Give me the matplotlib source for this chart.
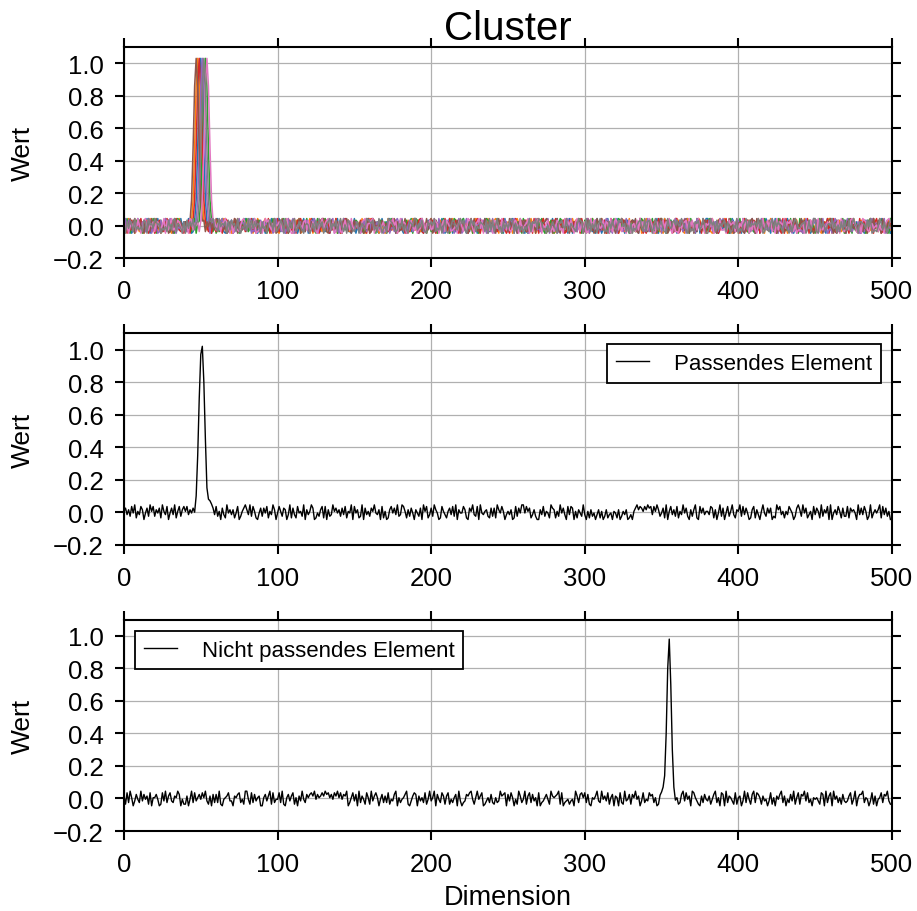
import numpy as np
import matplotlib
matplotlib.use("Agg")
import matplotlib.pyplot as plt

# Rauschwerte als Ziffernfolgen: Ziffer d -> (d - 4.5) / 100, also -0.045 .. 0.045
cluster_noise = [
    ["4718302659 2847193056 6193027485 3805162947 7294013586 1583926047 4926810375 8037215649 2561948037 6402839157",
     "3917504826 8250361947 0649273518 5182047369 2736985104 9041526837 4683710295 1759248063 6208537149 3571904286",
     "8143625970 2695041378 5930718264 0476293815 7812456093 4359082716 1067935428 6824107359 3195842670 9502617384",
     "2764815093 6038492157 4917260385 1385709246 8243156907 5690238417 0728145963 3471806259 9156372048 2845019736",
     "7309548162 1628073495 4052916837 8794260315 3186457029 6531872094 2947031568 0853694721 5208147396 4679321580"],
    ["5829163074 1470385926 9315062748 2083759416 6541820397 3907264185 7168493052 0452917683 8236051974 4791380625",
     "1046827953 7583901246 2960475831 8417236590 5209648173 3675192084 9832570461 0198324657 6754081392 2381956047",
     "9265038147 4702916385 1538427069 6014753928 3897061254 7240389615 5483196702 8659204731 0127658394 6395817240",
     "3180496275 8926037514 5402781639 2751349086 9638520471 1094673258 4827105963 7563982410 2310547896 8946210357",
     "0573924816 6218459073 3961708245 7405136982 1849273560 5682041739 9076358124 2314896507 8450712693 4197635082"],
    ["2691057384 8305274619 5047812936 1760398452 7428159063 3952640718 0817936245 6284501397 9136742580 4570283916",
     "6382915047 0718436259 4253709168 8946123570 1609285734 5873460192 3195072846 7024958613 2461837905 9837612054",
     "1758043692 6403198275 8921567034 3045729861 7569830142 2186457390 9310264578 4792031586 0634985217 5217649803",
     "8043296157 3572810469 6198457320 0821364975 4736902518 9350178246 1487523609 5609841732 2964310785 7315096428",
     "4926781053 1083652947 7851409326 3264917850 9507238164 0749516382 6312845790 8495072613 2630189475 5178342609"],
    ["7405283916 3916870524 0258341697 8673952140 4180726395 9527418063 1364059872 6092783451 2849167530 5731904286",
     "9153640782 2708395164 6491527038 1836072495 5072948613 7345816209 0928354176 4617293805 8260471539 3589106247",
     "6820374159 5193768402 1745029386 9308152674 4561387920 2036894571 7814260935 0479513628 3952748016 8217635094",
     "1597426830 6248013957 3705982146 7863159402 0431678295 5682347019 9016825734 2354970681 8149536027 4790261358",
     "3062918475 8719054362 5436781209 0928463751 6175390842 2843617590 7591024683 4307856129 1684239507 9250174836"],
    ["0938471265 6274159803 3501826974 9862043517 2149675380 7385210946 4627938051 8013594762 5490217638 1756843029",
     "4621803957 9035476218 1487920365 6352189074 0819635742 3764028519 8196573420 2570341896 7943058612 5208916473",
     "3417295608 7852603194 0269148735 5693870241 9025436187 1378920564 6840157392 4136789025 8701342659 2954618370",
     "6190752843 1365984207 8074215936 3428609571 5917342068 0641857329 2583190746 7309624815 4862075193 9726438051",
     "8572036419 4018697325 2396450781 6751208934 1204963758 7835491602 3069712584 5948136270 0413857926 6287590143"],
    ["3164928057 8520637194 6937215480 1409856723 7246301958 0581749362 9863425017 4198067235 2675390841 5312874690",
     "1859374026 6243908715 3076142589 9510683247 4728591603 8364720159 0197236485 5632849071 2849015376 7405163928",
     "9028615743 4719352860 7543086192 2185497036 6307912854 1954360728 5871243609 3426798150 8692051374 0315687942",
     "5283740196 2960471583 0615938427 7849106235 3172658049 9438025716 1726389504 6051742938 4397210865 8564937012",
     "6741053289 3092816574 8456702931 1267349805 5938167420 2614905378 9305782641 0789634152 7162058493 4830921765"],
    ["8250463719 5038912647 1674359082 6923187405 3409826571 9716054238 2581679340 7043215896 4865390127 0397842615",
     "5762189430 0914653782 8237410569 3689527014 7105836294 2451078936 6890342157 1328695704 9576013842 4023971658",
     "2397604581 8641235079 4152987306 7938046125 0873519462 6214785093 3569021748 9705368214 1486230957 5830794162",
     "7015948326 3482760915 9726153048 0561829473 6298401735 4837592061 1053678294 8172943506 5649017382 2304856719",
     "1649387052 7205619438 4813092765 9376841502 2560173849 8091425376 6734580921 3428967105 0987215634 5152306897"],
    ["6073851924 2418709563 9756032418 4289165307 0837492615 5602318794 3194657082 8561920437 1928374650 7340586291",
     "2486095173 8913742056 5026183947 0357926481 6941508732 1570364298 7682419503 4098753126 3815207649 9264831075",
     "7591326048 1035874269 6820439571 4376518092 8159240736 3798062514 0425917683 9862305147 5207684391 2643159870",
     "4928163705 9651207384 2387946150 6032578419 1784059326 7210943685 8549632071 3176824950 0395718264 6817402539",
     "0315792846 5749380162 1692847530 8420516973 3567028149 9108374256 4936051728 2281695407 7653849012 1496273058"],
]
# Peak-Mitten der Cluster-Elemente und gemeinsames Peak-Profil (Mitte +-4)
cluster_centers = [50, 48, 53, 49, 51, 47, 54, 52]
cluster_peak = [0.03, 0.16, 0.48, 0.86, 1.03, 0.86, 0.48, 0.16, 0.03]

match_noise = [
    "5736284915 3860472958 2647195380 4739158268 5836471925 4180629573 8250731946 3614802579 6392851047 2748153960",
    "4852760391 7318452906 3597014268 1806239574 6273815490 8461290735 2759436081 5016847392 3985162740 6427095813",
    "7296401853 1573829064 4861075932 8094356217 2719648503 5360182749 9485713620 0638254197 6152947308 3870516429",
    "3051624036 1502613405 4160253601 3057968758 6978385962 4719058362 8153947206 2691084735 5387160492 7048259316",
    "5928374016 8163059427 4702196835 1538640279 6294713508 3751926480 9046385172 2817564093 7385029146 4691837250",
]
match_peak_start = 46
match_peak = [0.00, 0.10, 0.35, 0.70, 0.97, 1.02, 0.80, 0.45, 0.15, 0.08, 0.07, 0.05]

other_noise = [
    "6182950374 2937461805 5740183926 8326597041 1604928357 4859316072 7291045683 3065782419 9418273560 0573691824",
    "4829105736 8150639427 5786947568 6978574869 5847690258 3709264185 1936850472 6281437905 2457910368 7063528149",
    "3590742861 6814257093 0237689415 9468013527 2152396780 7385041962 4916827350 8023574196 5679180234 1340962785",
    "8271054693 2946381570 6508219347 1759460382 4386725019 5031769284 5127938460 9853106274 3614792508 7092653181",
    "5603928417 9287516340 3815064792 6042739158 1769382405 4531870926 8094625173 2368149057 7925403816 0458276931",
]
other_peak_start = 349
other_peak = [0.02, 0.04, 0.07, 0.14, 0.40, 0.80, 0.98, 0.70, 0.30, 0.07, -0.01]

x_ticks = [0, 100, 200, 300, 400, 500]
y_ticks = [-0.2, 0.0, 0.2, 0.4, 0.6, 0.8, 1.0]


def decode(rows):
    digits = "".join(rows).replace(" ", "")
    return (np.array([int(d) for d in digits]) - 4.5) / 100


def with_peak(noise, start, peak):
    y = noise.copy()
    y[start:start + len(peak)] = peak
    return y


plt.rcParams.update({
    "font.family": ["Liberation Sans", "DejaVu Sans"],
    "font.size": 18.5,
    "axes.linewidth": 1.5,
    "xtick.direction": "out",
    "ytick.direction": "out",
    "xtick.top": True,
    "ytick.right": True,
    "xtick.major.size": 6.5,
    "ytick.major.size": 6.5,
    "xtick.major.width": 1.5,
    "ytick.major.width": 1.5,
    "xtick.major.pad": 8.5,
    "ytick.major.pad": 8,
    "grid.color": "#b0b0b0",
    "grid.linestyle": "-",
    "grid.linewidth": 0.9,
    "legend.fancybox": False,
    "legend.edgecolor": "black",
    "legend.framealpha": 1,
})

fig, axes = plt.subplots(3, 1, figsize=(9.17, 9.12), dpi=100)
fig.subplots_adjust(left=0.1352, right=0.9727, top=0.9474, bottom=0.0877, hspace=0.354)

# Cluster: alle Elemente übereinander
ax = axes[0]
for rows, c in zip(cluster_noise, cluster_centers):
    y = with_peak(decode(rows), c - len(cluster_peak) // 2, cluster_peak)
    ax.plot(np.arange(len(y)), y, lw=1.1)
ax.set_title("Cluster", fontsize=29, pad=4)

y = with_peak(decode(match_noise), match_peak_start, match_peak)
axes[1].plot(np.arange(len(y)), y, color="black", lw=1.0, label="Passendes Element")

y = with_peak(decode(other_noise), other_peak_start, other_peak)
axes[2].plot(np.arange(len(y)), y, color="black", lw=1.0, label="Nicht passendes Element")
axes[2].set_xlabel("Dimension", fontsize=19.5, labelpad=6)

for ax in axes:
    ax.set_xlim(0, 500)
    ax.set_ylim(-0.2, 1.1)
    ax.set_xticks(x_ticks)
    ax.set_yticks(y_ticks)
    ax.set_ylabel("Wert", fontsize=19, labelpad=13)
    ax.grid(True)

for ax, loc in [(axes[1], "upper right"), (axes[2], "upper left")]:
    leg = ax.legend(loc=loc, fontsize=16, handlelength=1.5, handletextpad=1.1,
                    borderpad=0.4, borderaxespad=0.5)
    leg.get_frame().set_linewidth(1.3)

fig.savefig("out.png", dpi=100)
